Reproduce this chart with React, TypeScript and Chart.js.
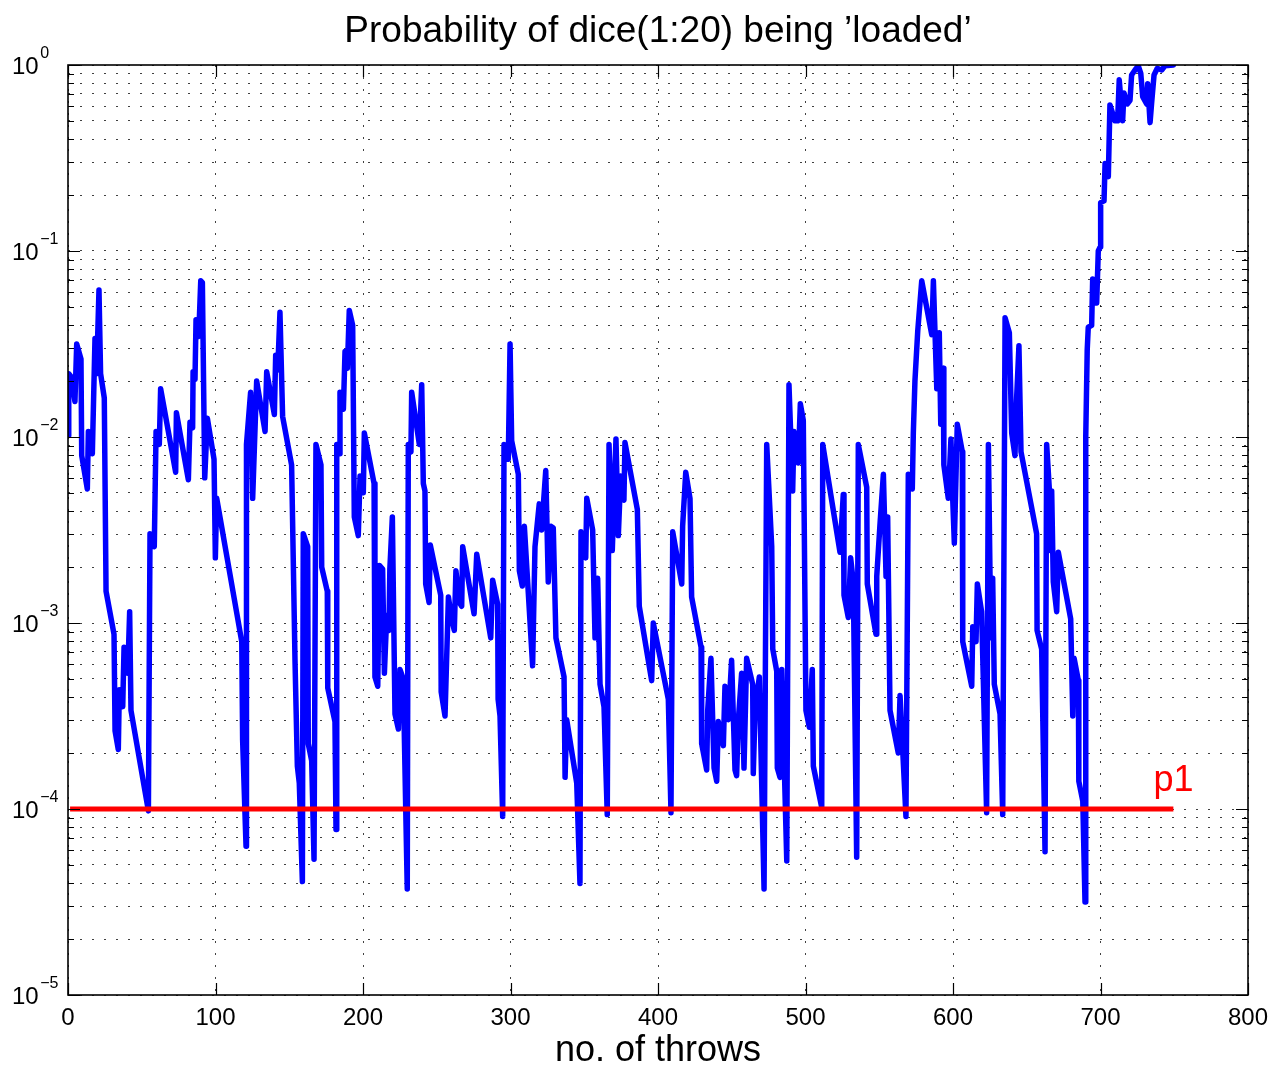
import React, { useEffect, useRef } from 'react';
import { Chart, registerables } from 'chart.js';

Chart.register(...registerables);

// ---- data ----
const THROWS: number[] = [
  0, 0.5, 2.5, 4.7, 5.9, 8.8, 9.3, 13.1, 13.8, 16.5,
  18.3, 19.4, 21, 22.1, 24.6, 25.8, 31.2, 31.9, 34.1, 34.8,
  37.1, 38, 40.5, 41.8, 42.7, 54.5, 55.6, 58.5, 59.7, 61.9,
  62.8, 73, 73.5, 81.6, 82.7, 84.5, 84.8, 86.1, 86.8, 88.6,
  90, 91.1, 92.7, 94.5, 99, 99.9, 100.8, 117.8, 118.4, 120.7,
  121, 123.8, 125.2, 127.9, 133.6, 134.7, 139.9, 140.8, 142.2, 143.7,
  145.5, 151.6, 153.9, 155.5, 156.8, 158.9, 159.5, 162.5, 162.9, 165.2,
  166.8, 168.1, 171.5, 172, 175.8, 176.1, 181, 181.7, 182.2, 183.9,
  184.4, 186.7, 187.8, 189.4, 190.7, 193, 194.1, 196.8, 198, 200.2,
  200.9, 207.5, 208.1, 210, 211.1, 213.3, 214.5, 216.1, 217.6, 218.2,
  219.9, 221.7, 224, 225.1, 227.3, 230, 230.7, 232.5, 233, 238.2,
  239.8, 240.9, 242, 242.5, 244.8, 245.6, 252.7, 253, 255.6, 257.9,
  260.1, 261.9, 263, 265.3, 266.9, 267.6, 275.3, 277.1, 286.6, 287.9,
  291.3, 291.6, 292.9, 294.7, 295.6, 298.5, 299.7, 300.8, 305.3, 306,
  308, 309.4, 315, 316.6, 319.5, 321.1, 323.9, 325.6, 327.5, 329,
  330.8, 336.3, 337, 338.1, 344.9, 347.1, 347.8, 351, 351.7, 355.7,
  357.3, 359.1, 360.7, 363.4, 365.6, 366.8, 369, 371.5, 373.1, 374.7,
  376.9, 377.6, 386, 387.3, 395.7, 396.8, 407, 408.8, 410, 416.1,
  416.7, 418.8, 421.7, 422.8, 429.2, 429.6, 433, 433.7, 435.9, 438,
  439.8, 440.9, 444.3, 445.4, 447.7, 449.9, 452.2, 453.3, 454.4, 456.7,
  458.3, 460.1, 464.2, 464.6, 465.8, 468.7, 470.3, 471.9, 473.7, 477.1,
  477.8, 480.5, 480.9, 482.7, 483.9, 487.3, 488.8, 491.3, 492.2, 495.1,
  496.5, 498.5, 500.3, 502.6, 504.6, 505.3, 511, 511.7, 523.4, 525.6,
  526.1, 529, 530.6, 532.4, 534.7, 535.8, 541.5, 541.9, 547.8, 548.3,
  550.5, 552.8, 554.6, 555.7, 557.3, 562.9, 564.1, 568.1, 569.7, 572.4,
  573.1, 574.2, 576.1, 578.8, 585.6, 586.7, 589, 590.7, 591.7, 593.4,
  593.8, 596.8, 598.6, 599.8, 600.9, 602.9, 606.3, 606.6, 612.7, 613.4,
  615.6, 616.5, 619.4, 622.8, 624, 625.6, 626.9, 628, 631.9, 633.7,
  635.3, 638.2, 639.8, 642, 643.2, 644.7, 646.1, 656.7, 657, 660.1,
  662.4, 663.5, 665.3, 666.4, 666.9, 668, 670.3, 671.4, 679.8, 681.2,
  682.1, 685, 685.3, 688, 689.5, 690, 691, 691.7, 694, 694.7,
  697.4, 698.5, 699.7, 700.1, 702.4, 703.1, 705.3, 706.4, 709.8, 711.6,
  712.7, 715, 715.9, 718.2, 720, 721.1, 723.4, 725.6, 727.3, 728.6,
  731.3, 732, 733.6, 734.7, 736.3, 738.5, 741.5, 743.7, 749.4,
];

const PROB_LOADED: number[] = [
  0.0102, 0.0219, 0.0209, 0.0155, 0.0316, 0.0263, 0.00794, 0.00525, 0.0107, 0.00813,
  0.0339, 0.0219, 0.0617, 0.0219, 0.0162, 0.00148, 0.000871, 0.000263, 0.000209, 0.000437,
  0.000355, 0.000741, 0.000537, 0.00115, 0.000339, 0.0000977, 0.00302, 0.00257, 0.0107, 0.00912,
  0.0182, 0.00646, 0.0135, 0.00589, 0.012, 0.0112, 0.0224, 0.0204, 0.0427, 0.0347,
  0.0692, 0.0676, 0.00603, 0.0126, 0.00759, 0.00224, 0.00468, 0.000794, 0.000234, 0.0000631,
  0.00912, 0.0174, 0.00468, 0.02, 0.0107, 0.0224, 0.0132, 0.0275, 0.0229, 0.0468,
  0.0129, 0.00708, 0.000631, 0.00017, 0.000138, 0.0000407, 0.00302, 0.00257, 0.000224, 0.000182,
  0.0000537, 0.00912, 0.00708, 0.002, 0.00148, 0.000447, 0.000295, 0.0000776, 0.00912, 0.00813,
  0.0174, 0.0141, 0.0288, 0.0234, 0.0479, 0.0398, 0.00372, 0.00295, 0.00617, 0.00501,
  0.0105, 0.00562, 0.000513, 0.000457, 0.00204, 0.00195, 0.000537, 0.0011, 0.000912, 0.00195,
  0.00372, 0.000324, 0.000269, 0.000562, 0.000501, 0.0000372, 0.00912, 0.00832, 0.0174, 0.00912,
  0.0191, 0.00562, 0.00513, 0.00162, 0.00129, 0.00263, 0.00141, 0.000427, 0.000316, 0.00138,
  0.00105, 0.000912, 0.00191, 0.00129, 0.00123, 0.00257, 0.00112, 0.00234, 0.000832, 0.0017,
  0.00126, 0.000389, 0.000316, 0.0000912, 0.00912, 0.00759, 0.0316, 0.00955, 0.00631, 0.00191,
  0.00158, 0.00331, 0.000589, 0.00257, 0.00437, 0.00316, 0.00661, 0.00166, 0.00331, 0.00324,
  0.000832, 0.000513, 0.000148, 0.000302, 0.000138, 0.0000398, 0.00309, 0.00224, 0.00468, 0.00316,
  0.000832, 0.00174, 0.000468, 0.000355, 0.0000933, 0.00912, 0.00245, 0.00977, 0.00295, 0.00617,
  0.00457, 0.00933, 0.00407, 0.00123, 0.00049, 0.001, 0.000389, 0.0000955, 0.00309, 0.00162,
  0.00331, 0.00646, 0.00468, 0.00138, 0.000741, 0.000224, 0.000162, 0.000339, 0.000646, 0.000166,
  0.000141, 0.000295, 0.000219, 0.000457, 0.000302, 0.000631, 0.000162, 0.000151, 0.000295, 0.000537,
  0.000166, 0.000646, 0.000468, 0.000155, 0.000339, 0.000513, 0.000138, 0.0000372, 0.00912, 0.00257,
  0.000724, 0.00055, 0.000166, 0.000148, 0.000562, 0.0000525, 0.0191, 0.00513, 0.0107, 0.00724,
  0.0151, 0.0123, 0.000339, 0.000275, 0.000562, 0.00017, 0.000102, 0.00912, 0.0024, 0.0049,
  0.00141, 0.00107, 0.00224, 0.00166, 0.000055, 0.00912, 0.00537, 0.00162, 0.000871, 0.00178,
  0.00339, 0.00631, 0.00178, 0.00372, 0.000339, 0.0002, 0.000407, 0.0000912, 0.00631, 0.00525,
  0.0105, 0.02, 0.0372, 0.0692, 0.0355, 0.0692, 0.0182, 0.0363, 0.0117, 0.0234,
  0.00708, 0.00468, 0.00977, 0.00468, 0.00269, 0.0117, 0.00832, 0.000794, 0.000457, 0.000955,
  0.000794, 0.00162, 0.00115, 0.0000955, 0.00912, 0.000832, 0.00174, 0.000468, 0.000324, 0.0000933,
  0.0437, 0.0363, 0.0105, 0.00794, 0.0166, 0.0309, 0.00832, 0.00302, 0.000912, 0.000724,
  0.0000589, 0.00912, 0.00525, 0.00245, 0.00513, 0.00166, 0.00115, 0.0024, 0.00105, 0.000316,
  0.000646, 0.00049, 0.000141, 0.00011, 0.0000316, 0.01, 0.0295, 0.0389, 0.0398, 0.0708,
  0.0525, 0.1, 0.105, 0.182, 0.186, 0.295, 0.251, 0.61, 0.501, 0.501,
  0.832, 0.501, 0.708, 0.617, 0.646, 0.883, 0.94, 0.99, 0.902, 0.676,
  0.617, 0.794, 0.49, 0.631, 0.883, 0.96, 0.94, 0.99, 0.999,
];

const P1_X: number[] = [1.4, 749.4];
const P1_Y: number[] = [1e-4, 1e-4];
const P1_LABEL = 'p1';
const P1_LABEL_AT = { x: 736, y: 1.25e-4 };

const X_TICKS: number[] = [0, 100, 200, 300, 400, 500, 600, 700, 800];
const Y_DECADES: number[] = [-5, -4, -3, -2, -1, 0];
const Y_MANTISSAS: number[] = [1, 2, 3, 4, 5, 6, 7, 8, 9];

const TITLE = 'Probability of dice(1:20) being \u2019loaded\u2019';
const X_LABEL = 'no. of throws';

const FONT = '"Liberation Sans", Arial, Helvetica, sans-serif';

const isPow10 = (v: number) => Math.abs(Math.log10(v) - Math.round(Math.log10(v))) < 1e-9;

const matlabFrame = {
  id: 'matlabFrame',
  afterDatasetsDraw(chart: any) {
    const { ctx, chartArea: a, scales } = chart;
    const xs = scales.x;
    const ys = scales.y;
    ctx.save();
    // ticks (inward, on all four sides)
    ctx.strokeStyle = '#000';
    ctx.lineWidth = 1.2;
    ctx.beginPath();
    for (const v of X_TICKS) {
      const px = Math.round(xs.getPixelForValue(v)) + 0.5;
      ctx.moveTo(px, a.bottom);
      ctx.lineTo(px, a.bottom - 12);
      ctx.moveTo(px, a.top);
      ctx.lineTo(px, a.top + 12);
    }
    for (const t of ys.ticks) {
      const py = Math.round(ys.getPixelForValue(t.value)) + 0.5;
      const len = isPow10(t.value) ? 12 : 6;
      ctx.moveTo(a.left, py);
      ctx.lineTo(a.left + len, py);
      ctx.moveTo(a.right, py);
      ctx.lineTo(a.right - len, py);
    }
    ctx.stroke();
    // box
    ctx.lineWidth = 1.6;
    ctx.strokeRect(a.left, a.top, a.right - a.left, a.bottom - a.top);

    // y tick labels 10^k
    ctx.fillStyle = '#000';
    ctx.textAlign = 'left';
    ctx.textBaseline = 'alphabetic';
    for (const k of Y_DECADES) {
      const py = ys.getPixelForValue(Math.pow(10, k));
      ctx.font = `24px ${FONT}`;
      ctx.fillText('10', 12, py + 8.6);
      const w = ctx.measureText('10').width;
      ctx.font = `16px ${FONT}`;
      const exp = k === 0 ? '0' : '\u2212' + Math.abs(k);
      ctx.fillText(exp, 12 + w + 1.5, py - 7);
    }

    // title
    ctx.font = `37px ${FONT}`;
    ctx.textAlign = 'center';
    ctx.fillText(TITLE, (a.left + a.right) / 2, 42);

    // p1 annotation
    ctx.font = `36px ${FONT}`;
    ctx.fillStyle = '#ff0000';
    ctx.textAlign = 'left';
    ctx.fillText(P1_LABEL, xs.getPixelForValue(P1_LABEL_AT.x), ys.getPixelForValue(P1_LABEL_AT.y));
    ctx.restore();
  },
};

export default function App() {
  const ref = useRef<HTMLCanvasElement>(null);

  useEffect(() => {
    if (!ref.current) return;
    const blue = THROWS.map((x, i) => ({ x, y: PROB_LOADED[i] }));
    const red = P1_X.map((x, i) => ({ x, y: P1_Y[i] }));
    const chart = new Chart(ref.current, {
      type: 'line',
      data: {
        datasets: [
          {
            label: 'p1',
            data: red,
            borderColor: '#ff0000',
            backgroundColor: '#ff0000',
            borderWidth: 5,
            pointRadius: 0,
            fill: false,
            order: 0,
          },
          {
            label: 'P(loaded)',
            data: blue,
            borderColor: '#0000ff',
            backgroundColor: '#0000ff',
            borderWidth: 5.5,
            pointRadius: 0,
            tension: 0,
            fill: false,
            borderJoinStyle: 'round',
            borderCapStyle: 'round',
            order: 1,
          },
        ],
      },
      options: {
        animation: false,
        responsive: false,
        devicePixelRatio: 1,
        layout: { padding: { top: 65, right: 23, left: 0, bottom: 0 } },
        plugins: {
          legend: { display: false },
          title: { display: false },
          tooltip: { enabled: false },
        },
        scales: {
          x: {
            type: 'linear',
            min: 0,
            max: 800,
            afterBuildTicks: (scale: any) => {
              scale.ticks = X_TICKS.map((v) => ({ value: v }));
            },
            afterFit: (scale: any) => {
              scale.height = 72;
              scale.paddingLeft = 0;
              scale.paddingRight = 0;
            },
            ticks: {
              autoSkip: false,
              maxRotation: 0,
              padding: 9,
              color: '#000',
              font: { size: 24, family: FONT },
            },
            grid: {
              color: 'rgba(0,0,0,0.75)',
              lineWidth: 1,
              drawTicks: false,
            },
            border: { display: false, dash: [2, 10] },
            title: {
              display: true,
              text: X_LABEL,
              color: '#000',
              font: { size: 36, family: FONT, lineHeight: 1 },
              padding: { top: 0, bottom: -2 },
            },
          },
          y: {
            type: 'logarithmic',
            min: 1e-5,
            max: 1,
            afterBuildTicks: (scale: any) => {
              const ticks: { value: number }[] = [];
              for (const e of Y_DECADES) {
                if (e === 0) {
                  ticks.push({ value: 1 });
                  continue;
                }
                for (const m of Y_MANTISSAS) ticks.push({ value: m * Math.pow(10, e) });
              }
              scale.ticks = ticks;
            },
            afterFit: (scale: any) => {
              scale.width = 68;
            },
            ticks: { display: false },
            grid: {
              color: 'rgba(0,0,0,0.75)',
              lineWidth: 1,
              drawTicks: false,
            },
            border: { display: false, dash: [2, 10] },
          },
        },
      },
      plugins: [matlabFrame],
    });
    return () => chart.destroy();
  }, []);

  return (
    <div style={{ position: 'absolute', left: 0, top: 0, width: 1271, height: 1067, background: '#fff' }}>
      <canvas ref={ref} width={1271} height={1067} style={{ display: 'block', width: 1271, height: 1067 }} />
    </div>
  );
}
